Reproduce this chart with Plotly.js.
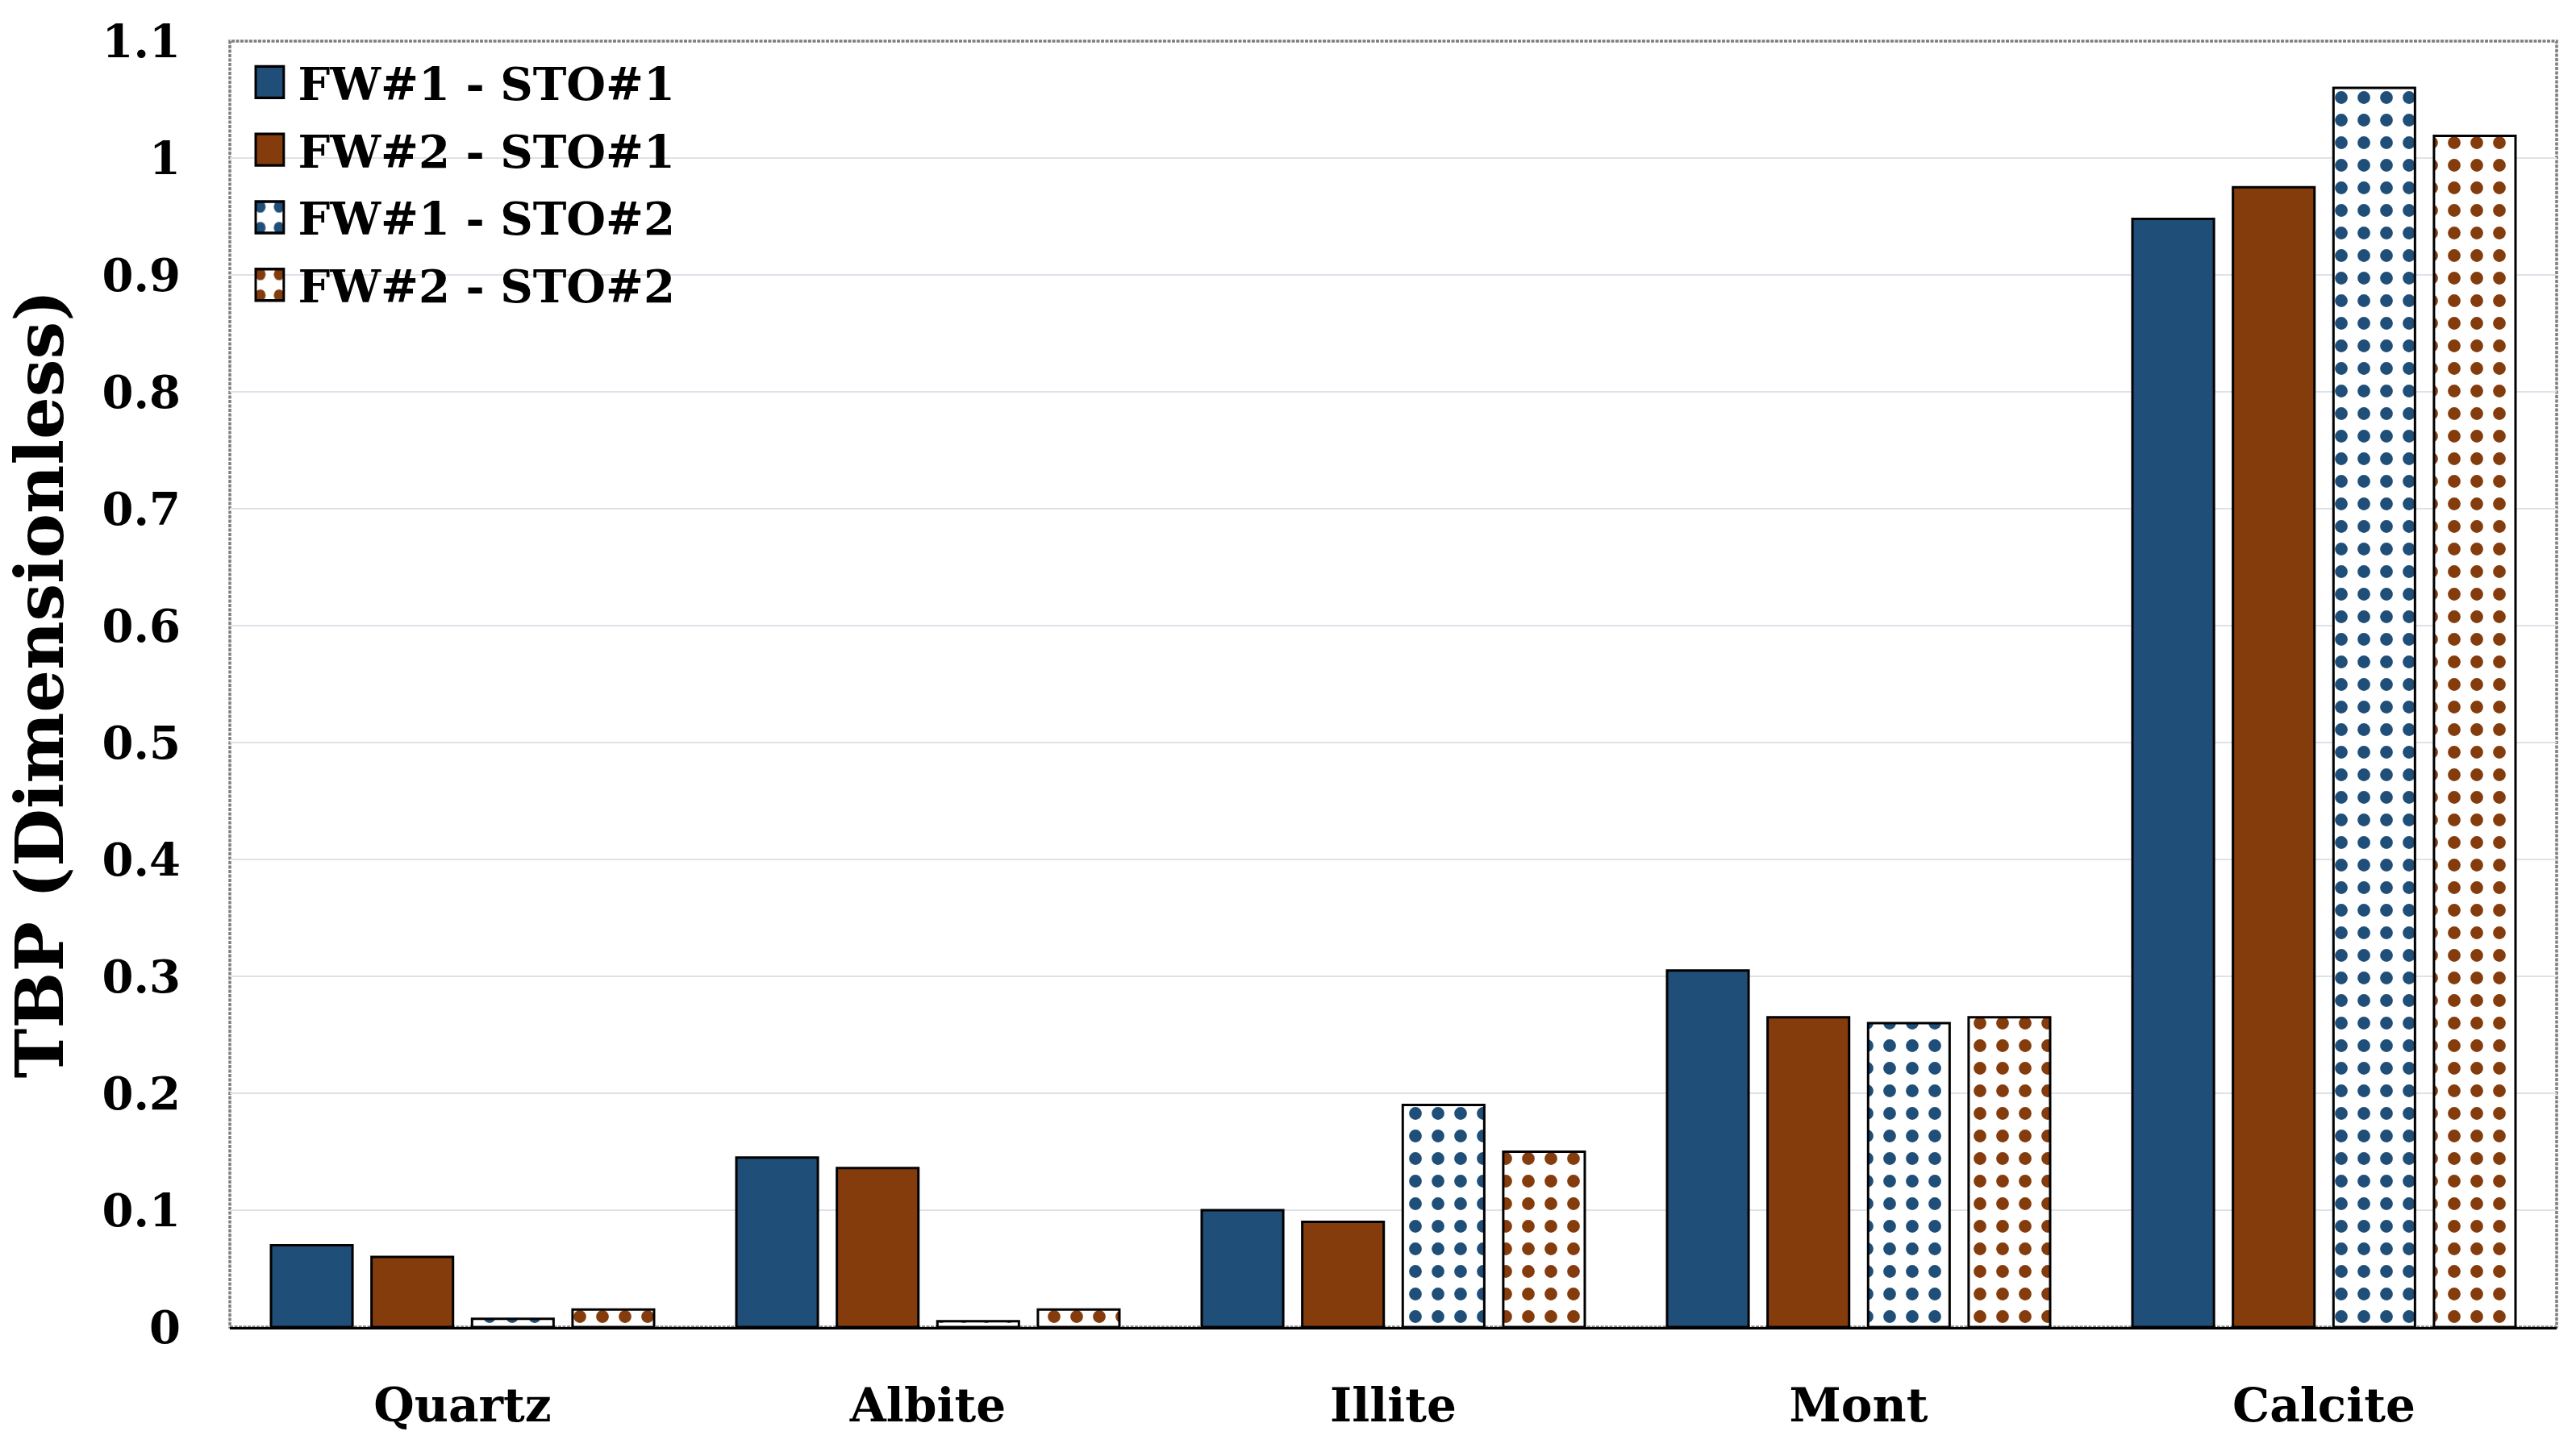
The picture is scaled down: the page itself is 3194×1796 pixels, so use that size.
<!DOCTYPE html>
<html>
<head>
<meta charset="utf-8">
<script src="https://cdn.plot.ly/plotly-3.0.1.min.js"></script>
<style>
  html, body { margin: 0; padding: 0; background: #ffffff; }
  #chart { width: 3194px; height: 1796px; }
</style>
</head>
<body>
<div id="chart"></div>
<script>
// ---- data ----
var categories = ['Quartz', 'Albite', 'Illite', 'Mont', 'Calcite'];
var seriesNames = ['FW#1 - STO#1', 'FW#2 - STO#1', 'FW#1 - STO#2', 'FW#2 - STO#2'];
var fw1sto1 = [0.070, 0.145, 0.100, 0.305, 0.948];
var fw2sto1 = [0.060, 0.136, 0.090, 0.265, 0.975];
var fw1sto2 = [0.007, 0.005, 0.190, 0.260, 1.060];
var fw2sto2 = [0.015, 0.015, 0.150, 0.265, 1.019];
var yTicks = [0, 0.1, 0.2, 0.3, 0.4, 0.5, 0.6, 0.7, 0.8, 0.9, 1, 1.1];
var yTickText = ['0', '0.1', '0.2', '0.3', '0.4', '0.5', '0.6', '0.7', '0.8', '0.9', '1', '1.1'];

// ---- styles ----
var BLUE = '#1F4E79';
var BROWN = '#843C0C';
var FONT = "'DejaVu Serif', 'Liberation Serif', serif";

function solidBar(name, values, color, grp) {
  return {
    type: 'bar', name: name, x: categories, y: values, legendgroup: grp,
    marker: { color: color, line: { color: '#000000', width: 3 } },
    hoverinfo: 'skip'
  };
}
function patternBar(name, values, color, grp) {
  return {
    type: 'bar', name: name, x: categories, y: values, legendgroup: grp,
    marker: {
      color: '#ffffff',
      line: { color: '#000000', width: 3 },
      pattern: { shape: '.', fillmode: 'replace', fgcolor: color, bgcolor: '#ffffff', size: 28, solidity: 0.25 }
    },
    hoverinfo: 'skip'
  };
}

var data = [
  solidBar(seriesNames[0], fw1sto1, BLUE, 'g1'),
  solidBar(seriesNames[1], fw2sto1, BROWN, 'g2'),
  patternBar(seriesNames[2], fw1sto2, BLUE, 'g3'),
  patternBar(seriesNames[3], fw2sto2, BROWN, 'g4')
];

var layout = {
  width: 3194, height: 1796,
  paper_bgcolor: '#ffffff', plot_bgcolor: '#ffffff',
  margin: { l: 285, r: 24, t: 51, b: 150, pad: 0 },
  barmode: 'group', bargap: 0.136, bargroupgap: 0.189,
  font: { family: FONT, color: '#000000', size: 56, weight: 700 },
  showlegend: true,
  legend: {
    x: 0.005, xanchor: 'left', y: 0.995, yanchor: 'top',
    bgcolor: 'rgba(0,0,0,0)', borderwidth: 0,
    font: { family: FONT, size: 56, color: '#000000', weight: 700 },
    itemwidth: 60, traceorder: 'grouped', tracegroupgap: 8
  },
  xaxis: {
    type: 'category', showgrid: false, zeroline: false,
    showline: true, linecolor: '#000000', linewidth: 3,
    ticks: '', ticklabelstandoff: 44,
    tickfont: { family: FONT, size: 58, color: '#000000', weight: 700 }
  },
  yaxis: {
    range: [0, 1.1], tickmode: 'array', tickvals: yTicks, ticktext: yTickText,
    showgrid: true, gridcolor: '#DEE2E8', gridwidth: 2.5,
    zeroline: false, showline: false, ticks: '', ticklabelstandoff: 60,
    tickfont: { family: FONT, size: 56, color: '#000000', weight: 700 },
    title: { text: 'TBP (Dimensionless)', standoff: 20,
             font: { family: FONT, size: 83, color: '#000000', weight: 700 } }
  },
  shapes: [{
    type: 'rect', xref: 'paper', yref: 'paper', x0: 0, x1: 1, y0: 0, y1: 1,
    line: { color: '#7f7f7f', width: 3.5, dash: '4px,1.5px' }, layer: 'below'
  }]
};

Plotly.newPlot('chart', data, layout, { displayModeBar: false, staticPlot: true }).then(function (gd) {
  // enlarge legend swatches to match the reference's big square keys
  var sx = 2.9, sy = 3.25;
  gd.querySelectorAll('.legend .legendpoints path').forEach(function (p) {
    var t = p.getAttribute('transform') || '';
    p.setAttribute('transform', t + ' scale(' + sx + ',' + sy + ')');
    p.style.strokeWidth = (3 / sx) + 'px';
  });
});
</script>
</body>
</html>
